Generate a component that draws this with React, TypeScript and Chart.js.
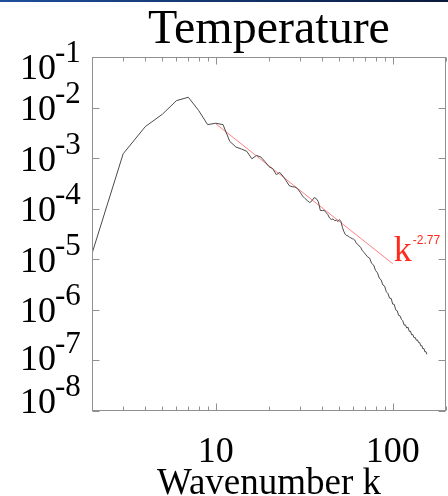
import React, { useEffect, useRef } from "react";
import { Chart, registerables } from "chart.js";

Chart.register(...registerables);

const TITLE = "Temperature";
const X_TITLE = "Wavenumber k";
const X_MIN = 2;
const X_MAX = 200;
const Y_MIN = 1e-8;
const Y_MAX = 1e-1;
const X_MAJOR_TICKS = [10, 100];
const X_MINOR_TICKS = [2, 3, 4, 5, 6, 7, 8, 9, 20, 30, 40, 50, 60, 70, 80, 90, 200];
const Y_TICK_EXPONENTS = [-1, -2, -3, -4, -5, -6, -7, -8];

const wavenumbers = [
  2, 3, 4, 5, 6, 7, 8, 9, 10, 11, 12, 13, 14, 15, 16, 17, 18, 19,
  20, 21, 22, 23, 24, 25, 26, 27, 28, 29, 30, 31, 32, 33, 34, 35, 36, 37, 38, 39,
  40, 41, 42, 43, 44, 45, 46, 47, 48, 49, 50, 51, 52, 53, 54, 55, 56, 57, 58, 59,
  60, 61, 62, 63, 64, 65, 66, 67, 68, 69,
  70, 72, 74, 76, 78, 80, 82, 84, 86, 88, 90, 92, 94, 96, 98,
  100, 102, 104, 106, 108, 110, 112, 114, 116, 118, 120, 122, 124, 126, 128,
  130, 132, 134, 136, 138, 140, 142, 144, 146, 148, 150, 152, 154, 156,
];

const spectrum = [
  1.3e-5, 1.22e-3, 4.2e-3, 7.4e-3, 1.37e-2, 1.6e-2, 8.8e-3, 4.6e-3, 4.9e-3, 4.6e-3,
  2.15e-3, 1.66e-3, 1.51e-3, 1.36e-3, 9.7e-4, 1.13e-3, 1.05e-3, 8.5e-4,
  6.76e-4, 6.18e-4, 4.71e-4, 5.22e-4, 4.4e-4, 3.58e-4, 2.86e-4, 2.73e-4, 2.69e-4, 2.49e-4,
  2.12e-4, 1.77e-4, 1.58e-4, 1.44e-4, 1.32e-4, 1.44e-4, 1.66e-4, 1.58e-4, 1.38e-4, 9.2e-5,
  9.2e-5, 9.3e-5, 8.4e-5, 7.65e-5, 6.53e-5, 6.1e-5, 6.3e-5, 5.8e-5, 5.95e-5, 5.6e-5,
  6.1e-5, 5.57e-5, 4.24e-5, 3.53e-5, 3.08e-5, 2.95e-5, 2.9e-5, 2.72e-5, 2.66e-5, 2.55e-5,
  2.51e-5, 2.4e-5, 2.14e-5, 2.0e-5, 1.93e-5, 1.78e-5, 1.72e-5, 1.52e-5, 1.44e-5, 1.35e-5,
  1.27e-5, 1.12e-5, 1.06e-5, 8.3e-6, 7.7e-6, 6.0e-6, 5.4e-6, 4.25e-6, 3.9e-6, 3.1e-6,
  2.95e-6, 2.28e-6, 2.1e-6, 1.7e-6, 1.68e-6,
  1.3e-6, 1.28e-6, 1.0e-6, 9.6e-7, 7.8e-7, 7.6e-7, 6.5e-7, 6.1e-7, 5.0e-7, 5.05e-7,
  4.35e-7, 4.55e-7, 3.75e-7, 3.8e-7, 3.2e-7,
  3.25e-7, 2.8e-7, 2.85e-7, 2.5e-7, 2.55e-7, 2.25e-7, 2.26e-7, 1.95e-7, 1.97e-7, 1.7e-7,
  1.73e-7, 1.48e-7, 1.5e-7, 1.32e-7,
];

const fitK = [10, 100];
const fitE = [4.8e-3, 8.2e-6];
const FIT_LABEL_BASE = "k";
const FIT_LABEL_EXP = "-2.77";

const SERIF = '"Liberation Serif", "Times New Roman", serif';
const SANS = '"Liberation Sans", Arial, sans-serif';

const idlPlugin = {
  id: "idlDecor",
  afterDraw(chart: any) {
    const { ctx, chartArea: a, scales } = chart;
    const xs = scales.x;
    const ys = scales.y;
    ctx.save();

    // top banner line
    const g = ctx.createLinearGradient(0, 0, chart.width, 0);
    g.addColorStop(0, "#1d4f9c");
    g.addColorStop(1, "#0a1a3c");
    ctx.fillStyle = g;
    ctx.fillRect(0, 0, chart.width, 2);

    const L = Math.round(a.left) + 0.5;
    const R = Math.round(a.right) - 0.5;
    const T = Math.round(a.top) + 0.5;
    const B = Math.round(a.bottom) - 0.5;

    ctx.strokeStyle = "#909090";
    ctx.lineWidth = 1;
    ctx.strokeRect(L, T, R - L, B - T);

    ctx.beginPath();
    const xTick = (v: number, len: number) => {
      const px = Math.round(xs.getPixelForValue(v)) + 0.5;
      ctx.moveTo(px, B);
      ctx.lineTo(px, B - len);
      ctx.moveTo(px, T);
      ctx.lineTo(px, T + len);
    };
    X_MAJOR_TICKS.forEach((v) => xTick(v, 7));
    X_MINOR_TICKS.forEach((v) => xTick(v, 4));
    Y_TICK_EXPONENTS.forEach((e) => {
      const py = Math.round(ys.getPixelForValue(Math.pow(10, e))) + 0.5;
      ctx.moveTo(L, py);
      ctx.lineTo(L + 7, py);
      ctx.moveTo(R, py);
      ctx.lineTo(R - 7, py);
    });
    ctx.stroke();

    // y tick labels (10^n)
    ctx.fillStyle = "#000";
    ctx.textAlign = "left";
    ctx.textBaseline = "alphabetic";
    const exps = [...Y_TICK_EXPONENTS].sort((p, q) => p - q); // bottom first
    let prev = Infinity;
    exps.forEach((e, i) => {
      let c = ys.getPixelForValue(Math.pow(10, e));
      c = Math.max(c, a.top + 9);
      c = Math.min(c, a.bottom - 11);
      if (i > 0 && i < exps.length - 1) c = Math.min(c, prev - 43);
      prev = c;
      const base = c + 12.5;
      ctx.font = `36px ${SERIF}`;
      ctx.fillText("10", a.left - 72, base);
      ctx.font = `31px ${SERIF}`;
      ctx.fillText(String(e), a.left - 37, base - 17);
    });

    // x tick labels
    ctx.textAlign = "center";
    ctx.font = `36px ${SERIF}`;
    X_MAJOR_TICKS.forEach((v) => {
      ctx.fillText(String(v), xs.getPixelForValue(v), 462);
    });

    // x title
    ctx.font = `37px ${SERIF}`;
    ctx.fillText(X_TITLE, (a.left + a.right) / 2, 494);

    // title
    ctx.font = `48px ${SERIF}`;
    ctx.fillText(TITLE, (a.left + a.right) / 2, 43);

    // fit label
    const lx = xs.getPixelForValue(fitK[1]) + 1;
    const ly = ys.getPixelForValue(fitE[1]) - 3;
    ctx.textAlign = "left";
    ctx.fillStyle = "#ff2a1a";
    ctx.font = `36px ${SERIF}`;
    ctx.fillText(FIT_LABEL_BASE, lx, ly);
    const kw = ctx.measureText(FIT_LABEL_BASE).width;
    ctx.font = `12px ${SANS}`;
    ctx.fillText(FIT_LABEL_EXP, lx + kw + 1, ly - 17);

    ctx.restore();
  },
};

export default function App() {
  const ref = useRef<HTMLCanvasElement | null>(null);

  useEffect(() => {
    document.body.style.margin = "0";
    const canvas = ref.current;
    if (!canvas) return;
    const chart = new Chart(canvas, {
      type: "scatter",
      data: {
        datasets: [
          {
            data: wavenumbers.map((k, i) => ({ x: k, y: spectrum[i] })),
            showLine: true,
            borderColor: "#4a4a4a",
            borderWidth: 1,
            pointRadius: 0,
            tension: 0,
          },
          {
            data: fitK.map((k, i) => ({ x: k, y: fitE[i] })),
            showLine: true,
            borderColor: "#ff8080",
            borderWidth: 1,
            pointRadius: 0,
            tension: 0,
          },
        ],
      },
      options: {
        animation: false,
        responsive: false,
        maintainAspectRatio: false,
        devicePixelRatio: 1,
        layout: { padding: { left: 92, top: 57, right: 2, bottom: 85 } },
        plugins: {
          legend: { display: false },
          tooltip: { enabled: false },
          title: { display: false },
        },
        scales: {
          x: { type: "logarithmic", min: X_MIN, max: X_MAX, display: false },
          y: { type: "logarithmic", min: Y_MIN, max: Y_MAX, display: false },
        },
      },
      plugins: [idlPlugin],
    });
    return () => chart.destroy();
  }, []);

  return (
    <div style={{ width: 448, height: 496, background: "#fff" }}>
      <canvas ref={ref} width={448} height={496} style={{ display: "block" }} />
    </div>
  );
}
